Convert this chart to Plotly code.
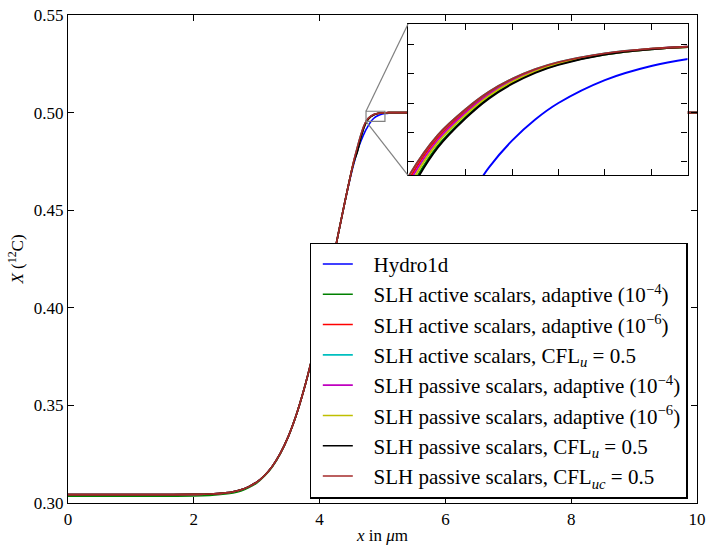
import plotly.graph_objects as go

# ---------------- data ----------------
x_um = [0, 1, 1.5, 2, 2.25, 2.5, 2.625, 2.75, 2.875, 3, 3.125, 3.25, 3.375, 3.5, 3.625,
        3.75, 3.875, 4, 4.1, 4.2, 4.3, 4.4, 4.5, 4.55, 4.6, 4.65, 4.7, 4.72, 4.74, 4.77,
        4.8, 4.825, 4.85, 4.875, 4.9, 4.95, 5.0, 5.05, 5.1, 5.2, 6, 8, 10]

hydro1d = [0.3043, 0.3043, 0.3043, 0.3044, 0.3046, 0.3052, 0.3058, 0.3068, 0.3084, 0.3107,
           0.3141, 0.3189, 0.3254, 0.3339, 0.3447, 0.3580, 0.3736, 0.3913, 0.4066, 0.4224,
           0.4384, 0.4538, 0.4682, 0.4745, 0.4803, 0.4848, 0.4887, 0.4901, 0.4914, 0.4931,
           0.4946, 0.4958, 0.49672, 0.49744, 0.49800, 0.49878, 0.49926, 0.49955, 0.49973,
           0.49990, 0.5, 0.5, 0.5]

slh_active_adapt4 = [0.3035, 0.3035, 0.3035, 0.3036, 0.3039, 0.3046, 0.3052, 0.3062, 0.3079,
                     0.3102, 0.3138, 0.3186, 0.3252, 0.3338, 0.3447, 0.3580, 0.3736, 0.3913,
                     0.4066, 0.4224, 0.4384, 0.4540, 0.4689, 0.4754, 0.4802, 0.4866, 0.4919,
                     0.4936, 0.49505, 0.49654, 0.49752, 0.49819, 0.49868, 0.49905, 0.49932,
                     0.49965, 0.49983, 0.49992, 0.49997, 0.5, 0.5, 0.5, 0.5]

slh_active_adapt6 = [0.3043, 0.3043, 0.3043, 0.3044, 0.3046, 0.3052, 0.3058, 0.3068, 0.3084,
                     0.3107, 0.3141, 0.3189, 0.3254, 0.3339, 0.3447, 0.3580, 0.3736, 0.3913,
                     0.4066, 0.4224, 0.4384, 0.4540, 0.4690, 0.4760, 0.4818, 0.4876, 0.4926,
                     0.4941, 0.49545, 0.49682, 0.49772, 0.49833, 0.49878, 0.49912, 0.49937,
                     0.49968, 0.49985, 0.49993, 0.49997, 0.5, 0.5, 0.5, 0.5]

slh_active_cflu = [0.3043, 0.3043, 0.3043, 0.3044, 0.3046, 0.3052, 0.3058, 0.3068, 0.3084,
                   0.3107, 0.3141, 0.3189, 0.3254, 0.3339, 0.3447, 0.3580, 0.3736, 0.3913,
                   0.4066, 0.4224, 0.4384, 0.4540, 0.4690, 0.4760, 0.4823, 0.4880, 0.4928,
                   0.4943, 0.49558, 0.49691, 0.49779, 0.49838, 0.49882, 0.49915, 0.49939,
                   0.49969, 0.49985, 0.49993, 0.49997, 0.5, 0.5, 0.5, 0.5]

slh_passive_adapt4 = [0.3043, 0.3043, 0.3043, 0.3044, 0.3046, 0.3052, 0.3058, 0.3068, 0.3084,
                      0.3107, 0.3141, 0.3189, 0.3254, 0.3339, 0.3447, 0.3580, 0.3736, 0.3913,
                      0.4066, 0.4224, 0.4384, 0.4540, 0.4690, 0.4759, 0.4813, 0.4873, 0.4924,
                      0.4940, 0.49534, 0.49674, 0.49767, 0.49829, 0.49876, 0.49910, 0.49936,
                      0.49967, 0.49984, 0.49993, 0.49997, 0.5, 0.5, 0.5, 0.5]

slh_passive_adapt6 = [0.3043, 0.3043, 0.3043, 0.3044, 0.3046, 0.3052, 0.3058, 0.3068, 0.3084,
                      0.3107, 0.3141, 0.3189, 0.3254, 0.3339, 0.3447, 0.3580, 0.3736, 0.3913,
                      0.4066, 0.4224, 0.4384, 0.4540, 0.4690, 0.4757, 0.4808, 0.4870, 0.4922,
                      0.4938, 0.49520, 0.49665, 0.49760, 0.49824, 0.49872, 0.49908, 0.49934,
                      0.49966, 0.49984, 0.49992, 0.49997, 0.5, 0.5, 0.5, 0.5]

slh_passive_cflu = [0.3043, 0.3043, 0.3043, 0.3044, 0.3046, 0.3052, 0.3058, 0.3068, 0.3084,
                    0.3107, 0.3141, 0.3189, 0.3254, 0.3339, 0.3447, 0.3580, 0.3736, 0.3913,
                    0.4066, 0.4224, 0.4384, 0.4540, 0.4688, 0.4752, 0.4798, 0.4863, 0.4918,
                    0.4935, 0.49496, 0.49648, 0.49748, 0.49815, 0.49865, 0.49903, 0.49930,
                    0.49965, 0.49983, 0.49992, 0.49997, 0.5, 0.5, 0.5, 0.5]

slh_passive_cfluc = [0.3043, 0.3043, 0.3043, 0.3044, 0.3046, 0.3052, 0.3058, 0.3068, 0.3084,
                     0.3107, 0.3141, 0.3189, 0.3254, 0.3339, 0.3447, 0.3580, 0.3736, 0.3913,
                     0.4066, 0.4224, 0.4384, 0.4540, 0.4690, 0.4760, 0.4823, 0.4880, 0.4928,
                     0.4943, 0.49558, 0.49691, 0.49779, 0.49838, 0.49882, 0.49915, 0.49939,
                     0.49969, 0.49985, 0.49993, 0.49997, 0.5, 0.5, 0.5, 0.5]

names = [
    "Hydro1d",
    "SLH active scalars, adaptive (10<sup>−4</sup>)",
    "SLH active scalars, adaptive (10<sup>−6</sup>)",
    "SLH active scalars, CFL<sub><i>u</i></sub> = 0.5",
    "SLH passive scalars, adaptive (10<sup>−4</sup>)",
    "SLH passive scalars, adaptive (10<sup>−6</sup>)",
    "SLH passive scalars, CFL<sub><i>u</i></sub> = 0.5",
    "SLH passive scalars, CFL<sub><i>uc</i></sub> = 0.5",
]
series = [hydro1d, slh_active_adapt4, slh_active_adapt6, slh_active_cflu,
          slh_passive_adapt4, slh_passive_adapt6, slh_passive_cflu, slh_passive_cfluc]
colors = ["#0000ff", "#008000", "#ff0000", "#00bfbf", "#bf00bf", "#bfbf00", "#000000", "#a52a2a"]

main_xrange = [0, 10]
main_yrange = [0.30, 0.55]
main_xticks = [0, 2, 4, 6, 8, 10]
main_yticks = [0.30, 0.35, 0.40, 0.45, 0.50, 0.55]

inset_xrange = [4.738, 5.039]
inset_yrange = [0.49554, 0.50069]
inset_xticks = [4.80, 4.85, 4.90, 4.95, 5.00]
inset_yticks = [0.496, 0.497, 0.498, 0.499, 0.500]
inset_xdomain = [0.5406, 0.9849]
inset_ydomain = [0.6715, 0.9816]

FONT = "Liberation Serif, Times New Roman, Times, serif"
PAD = "\u00a0\u00a0\u00a0"

fig = go.Figure()
for nm, ys, c in zip(names, series, colors):
    fig.add_trace(go.Scatter(x=x_um, y=ys, mode="lines", name=PAD + nm,
                             line=dict(color=c, width=1.6, shape="spline", smoothing=1.0),
                             xaxis="x", yaxis="y"))
for nm, ys, c in zip(names, series, colors):
    fig.add_trace(go.Scatter(x=x_um, y=ys, mode="lines", name=nm, showlegend=False,
                             line=dict(color=c, width=1.9, shape="spline", smoothing=1.0),
                             xaxis="x2", yaxis="y2"))

axis_common = dict(showline=True, linecolor="black", linewidth=1.3, mirror="allticks",
                   ticks="inside", ticklen=6, tickwidth=1, tickcolor="black",
                   showgrid=False, zeroline=False, automargin=False)

fig.update_layout(
    width=706, height=545,
    margin=dict(l=68, r=8.5, t=15, b=42),
    paper_bgcolor="white", plot_bgcolor="white",
    font=dict(family=FONT, color="black", size=17),
    xaxis=dict(range=main_xrange, tickvals=main_xticks, domain=[0, 1],
               title=dict(text="<i>x</i> in <i>μ</i>m", font=dict(family=FONT, size=17), standoff=6),
               tickfont=dict(family=FONT, size=17), **axis_common),
    yaxis=dict(range=main_yrange, tickvals=main_yticks, tickformat=".2f", domain=[0, 1],
               title=dict(text="<i>X</i> (<sup>12</sup>C)", font=dict(family=FONT, size=17), standoff=5),
               tickfont=dict(family=FONT, size=17), **axis_common),
    xaxis2=dict(range=inset_xrange, tickvals=inset_xticks, domain=inset_xdomain,
                anchor="y2", showticklabels=False, **axis_common),
    yaxis2=dict(range=inset_yrange, tickvals=inset_yticks, domain=inset_ydomain,
                anchor="x2", showticklabels=False, **axis_common),
    legend=dict(x=0.9849, xanchor="right", y=0.0092, yanchor="bottom",
                bgcolor="white", bordercolor="black", borderwidth=1.3,
                font=dict(family=FONT, size=21), indentation=7,
                itemwidth=30, tracegroupgap=0),
    showlegend=True,
)

# zoom rectangle and connectors (in main-axis data coordinates)
gray = "#808080"
fig.add_shape(type="rect", xref="x", yref="y",
              x0=inset_xrange[0], x1=inset_xrange[1], y0=inset_yrange[0], y1=inset_yrange[1],
              line=dict(color=gray, width=1.2), layer="above")

def paper_to_main(px, py):
    return (main_xrange[0] + px * (main_xrange[1] - main_xrange[0]),
            main_yrange[0] + py * (main_yrange[1] - main_yrange[0]))

tl = paper_to_main(inset_xdomain[0], inset_ydomain[1])
bl = paper_to_main(inset_xdomain[0], inset_ydomain[0])
fig.add_shape(type="line", xref="x", yref="y", x0=inset_xrange[0], y0=inset_yrange[1],
              x1=tl[0], y1=tl[1], line=dict(color=gray, width=1.2), layer="above")
fig.add_shape(type="line", xref="x", yref="y", x0=inset_xrange[0], y0=inset_yrange[0],
              x1=bl[0], y1=bl[1], line=dict(color=gray, width=1.2), layer="above")

fig.write_html("out.html")
